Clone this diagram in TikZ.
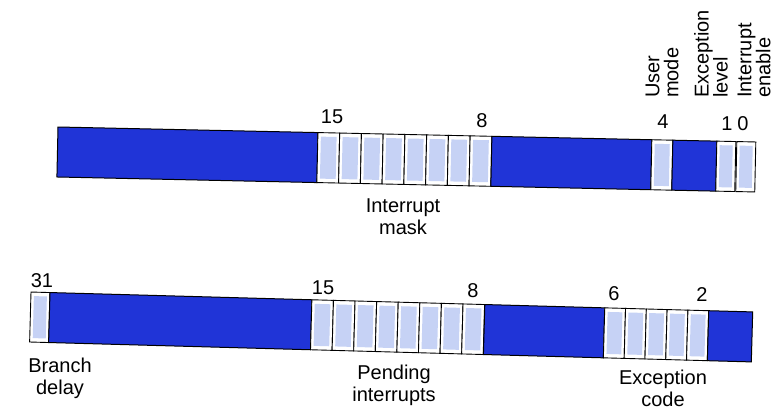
\documentclass[tikz,border=0pt]{standalone}
\usepackage{fontspec}
\setmainfont{Liberation Sans}
\definecolor{regblue}{RGB}{32,52,215}
\definecolor{bitfill}{RGB}{198,210,245}
\newcommand\bitcell[3]{%
  \draw[bitbox] (#1,#3) rectangle (#2,#3+50);
  \fill[bitin] (#1+3,#3+4) rectangle (#2-3,#3+46);}
\begin{document}
\begin{tikzpicture}[x=1pt,y=-1pt,
  blueseg/.style={draw=black, fill=regblue, line width=1pt},
  bitbox/.style={draw=black, fill=white, line width=0.9pt},
  bitin/.style={fill=bitfill, draw=none},
  num/.style={inner sep=0pt, font=\fontsize{20}{21}\selectfont},
  lab/.style={inner sep=0pt, align=center, anchor=north, font=\fontsize{20}{21.5}\selectfont},
  vlab/.style={inner sep=0pt, align=left, rotate=90, anchor=west, font=\fontsize{20}{19}\selectfont}]
\useasboundingbox (0,0) rectangle (778,417);
% ---------- top register ----------
\begin{scope}[rotate around={-1.23:(58,127)}]
  \draw[blueseg] (58,127) rectangle (318,177);
  \foreach \i in {0,...,7} {
    \pgfmathsetmacro\xa{318+21.75*\i}
    \pgfmathsetmacro\xb{318+21.75*(\i+1)}
    \bitcell{\xa}{\xb}{127}
  }
  \draw[blueseg] (492,127) rectangle (652,177);
  \bitcell{652}{673}{127}
  \draw[blueseg] (673,127) rectangle (717,177);
  \bitcell{717}{736}{127}
  \bitcell{737}{756}{127}
\end{scope}
% ---------- bottom register ----------
\begin{scope}[rotate around={-1.58:(30,292)}]
  \bitcell{31}{50}{292}
  \draw[blueseg] (50,292) rectangle (312,342);
  \foreach \i in {0,...,7} {
    \pgfmathsetmacro\xa{312+21.6*\i}
    \pgfmathsetmacro\xb{312+21.6*(\i+1)}
    \bitcell{\xa}{\xb}{292}
  }
  \draw[blueseg] (485,292) rectangle (605,342);
  \foreach \i in {0,...,4} {
    \pgfmathsetmacro\xa{605+20.8*\i}
    \pgfmathsetmacro\xb{605+20.8*(\i+1)}
    \bitcell{\xa}{\xb}{292}
  }
  \draw[blueseg] (709,292) rectangle (753,342);
\end{scope}
% ---------- bit numbers ----------
\node[num] (t15) at (332,117) {15};
\node[num] (t8)  at (482,121) {8};
\node[num] (t4)  at (663,122) {4};
\node[num] (t1)  at (727,124) {1};
\node[num] (t0)  at (743,124) {0};
\node[num] (b31) at (42,281) {31};
\node[num] (b15) at (323,288) {15};
\node[num] (b8)  at (473,291) {8};
\node[num] (b6)  at (614,294) {6};
\node[num] (b2)  at (702,295) {2};
% ---------- field labels ----------
\node[vlab] (um) at (662,98) {User\\mode};
\node[vlab] (el) at (711,98) {Exception\\level};
\node[vlab] (ie) at (754,98) {Interrupt\\enable};
\node[lab] (im) at (403,199) {Interrupt\\mask};
\node[lab] (bd) at (60,358) {Branch\\delay};
\node[lab] (pi) at (394,365) {Pending\\interrupts};
\node[lab] (ec) at (663,370) {Exception\\code};
\end{tikzpicture}
\end{document}
